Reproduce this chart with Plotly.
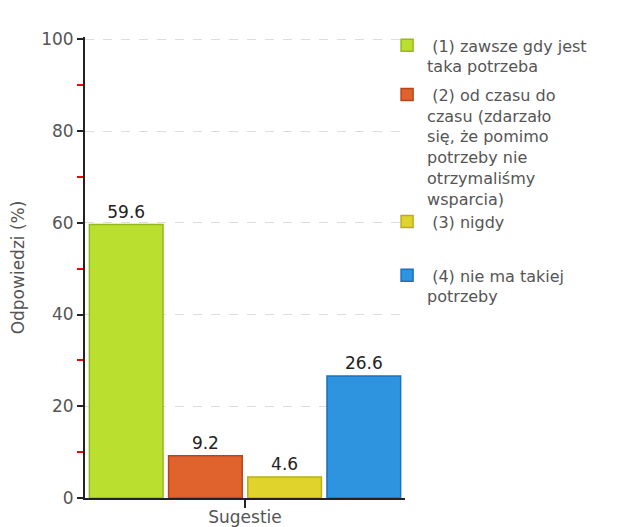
import plotly.graph_objects as go

category = ["Sugestie"]
series_names = [
    " (1) zawsze gdy jest<br>taka potrzeba",
    " (2) od czasu do<br>czasu (zdarzało<br>się, że pomimo<br>potrzeby nie<br>otrzymaliśmy<br>wsparcia)",
    " (3) nigdy",
    " (4) nie ma takiej<br>potrzeby",
]
values = [59.6, 9.2, 4.6, 26.6]
fill_colors = ["#bbdf2f", "#e0622c", "#e0d42c", "#2e94e0"]
line_colors = ["#93b91c", "#b9441a", "#bbad1a", "#1b70bf"]
legend_ids = ["legend", "legend2", "legend3", "legend4"]
legend_y = [1.0185, 0.912, 0.6367, 0.5196]

y_ticks = [0, 20, 40, 60, 80, 100]
y_minor_ticks = [10, 30, 50, 70, 90]

fig = go.Figure()
for name, v, fc, lc, lid in zip(series_names, values, fill_colors, line_colors, legend_ids):
    fig.add_trace(go.Bar(
        x=category, y=[v], name=name, legend=lid,
        marker=dict(color=fc, line=dict(color=lc, width=1.5)),
        text=[f"{v:.1f}"], textposition="outside",
        textfont=dict(family="DejaVu Sans", size=17, color="#222"),
        cliponaxis=False,
    ))

legend_common = dict(x=0.944, xanchor="left", yanchor="top", valign="top",
                     bgcolor="rgba(0,0,0,0)",
                     font=dict(family="DejaVu Sans", size=16, color="#555"))

# page body has an 8px margin, so the figure is 8px smaller and margins compensate
fig.update_layout(
    width=622, height=519,
    margin=dict(l=77, r=225, t=29, b=29, autoexpand=False),
    paper_bgcolor="white", plot_bgcolor="white",
    barmode="group", bargap=0.01, bargroupgap=0.07,
    font=dict(family="DejaVu Sans", size=16, color="#555"),
    showlegend=True,
    legend=dict(y=legend_y[0], **legend_common),
    legend2=dict(y=legend_y[1], **legend_common),
    legend3=dict(y=legend_y[2], **legend_common),
    legend4=dict(y=legend_y[3], **legend_common),
    xaxis=dict(showline=True, linecolor="#222", linewidth=2,
               ticks="outside", ticklen=8, tickcolor="#222", tickwidth=2,
               showticklabels=False, showgrid=False, automargin=False,
               title=dict(text="Sugestie", standoff=4,
                          font=dict(size=17, color="#555"))),
    yaxis=dict(range=[0, 100.5], tickvals=y_ticks,
               showline=True, linecolor="#222", linewidth=2,
               ticks="outside", ticklen=6, tickcolor="#222", tickwidth=2,
               tickfont=dict(size=17, color="#555"),
               showgrid=True, gridcolor="#dddddd", griddash="dash",
               zeroline=False, automargin=False,
               minor=dict(tickvals=y_minor_ticks, ticks="outside", ticklen=6,
                          tickcolor="red", tickwidth=1.5, showgrid=False),
               title=dict(text="Odpowiedzi (%)", standoff=12,
                          font=dict(size=17, color="#555"))),
)

fig.write_html("out.html")
